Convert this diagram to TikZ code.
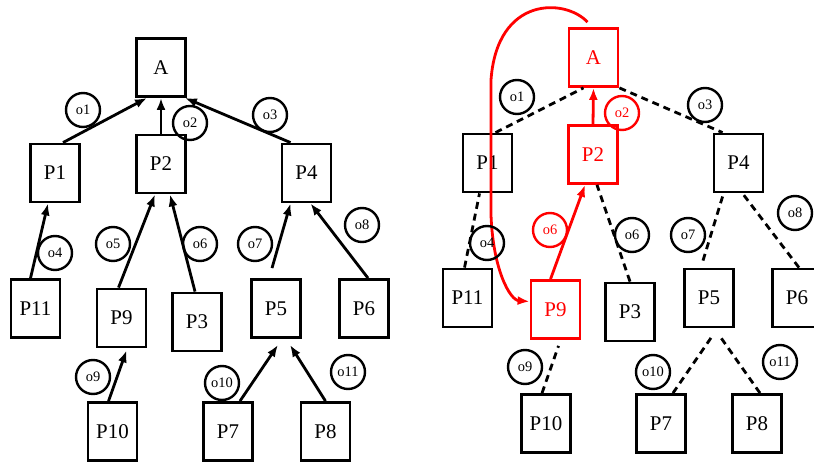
\documentclass[tikz,border=0pt]{standalone}
\usepackage{fontspec}
\setmainfont{Liberation Serif}
\usetikzlibrary{arrows.meta}
\begin{document}
\begin{tikzpicture}[x=1bp,y=-1bp,
 box/.style={draw, line width=2.8bp, minimum width=49bp, minimum height=58bp, inner sep=0pt, font=\fontsize{21}{21}\selectfont},
 lab/.style={draw, circle, line width=2.4bp, minimum size=34bp, inner sep=0pt, font=\fontsize{14.5}{14.5}\selectfont},
 arr/.style={line width=2.8bp, -{Latex[length=12bp,width=9bp]}},
 dsh/.style={line width=2.8bp, dash pattern=on 7bp off 5bp},
 hl/.style={red, text=red}]
\useasboundingbox (0,0) rectangle (814,463);
% ---------- left tree ----------
\node[box] (A) at (161,67.5) {A};
\node[box] (P1) at (55,173) {P1};
\node[box] (P2) at (161,164) {P2};
\node[box] (P4) at (306.5,173) {P4};
\node[box] (P11) at (35.5,308.5) {P11};
\node[box] (P9) at (121.5,318) {P9};
\node[box] (P3) at (197,322) {P3};
\node[box] (P5) at (276,308.5) {P5};
\node[box] (P6) at (364,308.5) {P6};
\node[box] (P10) at (112.5,431.5) {P10};
\node[box] (P7) at (228,431.5) {P7};
\node[box] (P8) at (325.5,431.5) {P8};
\draw[arr] ([xshift=8]P1.north) -- ([xshift=-14]A.south);
\draw[arr] (P2.north) -- (A.south);
\draw[arr] ([xshift=-16]P4.north) -- ([xshift=-2]A.south east);
\draw[arr] ([xshift=-5]P11.north) -- ([xshift=-7]P1.south);
\draw[arr] ([xshift=-3]P9.north) -- ([xshift=-6]P2.south);
\draw[arr] ([xshift=-2]P3.north) -- ([xshift=9]P2.south);
\draw[arr] ([shift={(-4,-10)}]P5.north) -- ([xshift=-16]P4.south);
\draw[arr] ([xshift=4]P6.north) -- ([xshift=4]P4.south);
\draw[arr] ([xshift=-4]P10.north) -- ([shift={(5,2)}]P9.south);
\draw[arr] ([xshift=12]P7.north) -- ([shift={(2,6)}]P5.south);
\draw[arr] ([xshift=0]P8.north) -- ([shift={(14,6)}]P5.south);
\node[lab] (l1) at (83,110) {o1};
\node[lab] (l2) at (190,123) {o2};
\node[lab] (l3) at (270,115) {o3};
\node[lab] (l4) at (55,253) {o4};
\node[lab] (l5) at (113,244) {o5};
\node[lab] (l6) at (200,244) {o6};
\node[lab] (l7) at (255,244) {o7};
\node[lab] (l8) at (362,225) {o8};
\node[lab] (l9) at (93,377) {o9};
\node[lab] (l10) at (222,383) {o10};
\node[lab] (l11) at (348,372) {o11};
% ---------- right tree ----------
\node[box, hl] (rA) at (593.5,57.5) {A};
\node[box] (rP1) at (487.5,163) {P1};
\node[box, hl] (rP2) at (593,154.5) {P2};
\node[box] (rP4) at (738.5,163) {P4};
\node[box] (rP11) at (467.5,298) {P11};
\node[box, hl] (rP9) at (555.5,309.5) {P9};
\node[box] (rP3) at (630,312) {P3};
\node[box] (rP5) at (709,298) {P5};
\node[box] (rP6) at (797,298) {P6};
\node[box] (rP10) at (546,423.5) {P10};
\node[box] (rP7) at (661,423.5) {P7};
\node[box] (rP8) at (757,423.5) {P8};
\draw[dsh] ([xshift=8]rP1.north) -- ([xshift=-10]rA.south);
\draw[dsh] (rA.south east) -- ([xshift=-16]rP4.north);
\draw[dsh] ([xshift=-3]rP11.north) -- ([xshift=-8]rP1.south);
\draw[dsh] (rP3.north) -- ([xshift=4]rP2.south);
\draw[dsh] ([shift={(-6,-7)}]rP5.north) -- ([xshift=-15]rP4.south);
\draw[dsh] ([xshift=2]rP6.north) -- ([xshift=4]rP4.south);
\draw[dsh] ([xshift=-4]rP10.north) -- ([shift={(3,6)}]rP9.south);
\draw[dsh] ([xshift=12]rP7.north) -- ([shift={(3,8)}]rP5.south);
\draw[dsh] ([xshift=3]rP8.north) -- ([shift={(11,8)}]rP5.south);
\draw[arr, red] (rP2.north) -- (rA.south);
\draw[arr, red] ([xshift=-5]rP9.north) -- ([xshift=-8]rP2.south);
\draw[arr, red] ([shift={(-6,-5)}]rA.north) .. controls (565,-2) and (497,-4) .. (491,80)
   -- (491,215) .. controls (493,270) and (510,300) .. ([yshift=8]rP9.west);
\node[lab] (r1) at (517,97) {o1};
\node[lab, hl] (r2) at (622,113) {o2};
\node[lab] (r3) at (705,105) {o3};
\node[lab] (r4) at (487,243) {o4};
\node[lab, hl] (r5) at (550,230) {o6};
\node[lab] (r6) at (632,235) {o6};
\node[lab] (r7) at (688,235) {o7};
\node[lab] (r8) at (795,213) {o8};
\node[lab] (r9) at (525,367) {o9};
\node[lab] (r10) at (653,372) {o10};
\node[lab] (r11) at (780,362) {o11};
\end{tikzpicture}
\end{document}
